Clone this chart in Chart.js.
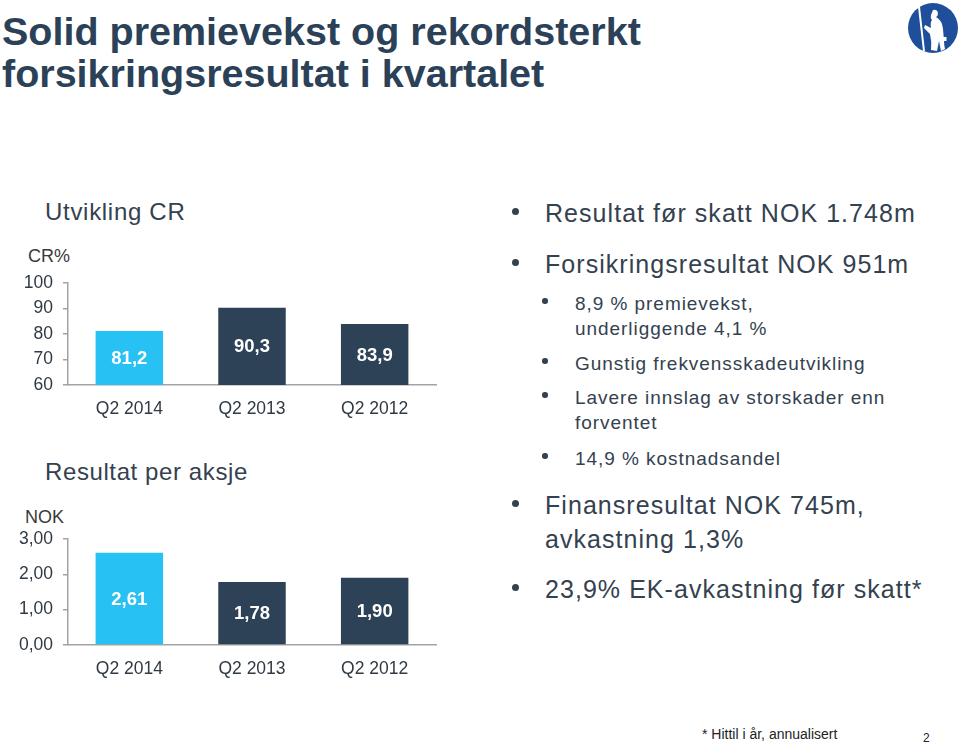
<!DOCTYPE html>
<html><head><meta charset="utf-8">
<script src="https://cdn.jsdelivr.net/npm/chart.js@4.4.1/dist/chart.umd.min.js"></script>
<style>
html,body{margin:0;padding:0;background:#fff;}
body{width:960px;height:744px;position:relative;overflow:hidden;font-family:"Liberation Sans",Arial,Helvetica,sans-serif;color:#2f3c4b;}
.abs{position:absolute;white-space:nowrap;line-height:1;}
.title{font-family:"Liberation Sans Narrow","Liberation Sans",Arial,sans-serif;font-weight:bold;font-size:39.5px;color:#2b4158;left:2px;}
.big{font-size:25px;letter-spacing:1.05px;color:#34414f;}
.sub{font-size:19px;letter-spacing:0.95px;color:#34414f;}
.dot{position:absolute;border-radius:50%;background:#34414f;}
canvas{position:absolute;}
</style></head>
<body>
<div class="abs title" style="top:12px">Solid premievekst og rekordsterkt</div>
<div class="abs title" style="top:54px">forsikringsresultat i kvartalet</div>

<svg style="position:absolute;left:906px;top:1px" width="54" height="54" viewBox="0 0 54 54">
  <circle cx="27" cy="27" r="25" fill="#1f4f9b"/>
  <line x1="13" y1="6" x2="18" y2="50" stroke="#fff" stroke-width="2"/>
  <path d="M27 9 q4 -1 5 3 q0 3 -2 4 q6 3 7 12 l1 12 q0 4 1 8 l-4 2 l-2 -10 l-2 10 l-6 -1 q1 -8 -1 -16 l-6 -6 l1 -3 l6 3 q-1 -6 1 -8 q-2 -2 -1 -5 z" fill="#fff"/>
  <rect x="37" y="36" width="3.5" height="4" fill="#fff"/>
</svg>

<div class="abs" style="left:45px;top:200px;font-size:24px;letter-spacing:0.7px;color:#34414f">Utvikling CR</div>
<div class="abs" style="left:28px;top:247px;font-size:18px;color:#3a3a3a">CR%</div>
<canvas id="cr" width="440" height="170" style="left:0;top:260px"></canvas>

<div class="abs" style="left:45px;top:460px;font-size:24px;letter-spacing:0.6px;color:#34414f">Resultat per aksje</div>
<div class="abs" style="left:25px;top:508px;font-size:18px;color:#3a3a3a">NOK</div>
<canvas id="eps" width="440" height="175" style="left:0;top:515px"></canvas>

<div id="txt"></div>

<div class="abs" style="left:702px;top:727px;font-size:14px;color:#222">* Hittil i år, annualisert</div>
<div class="abs" style="left:923px;top:732px;font-size:12px;color:#222">2</div>

<script>
const categories = ['Q2 2014', 'Q2 2013', 'Q2 2012'];
const crValues = [81.2, 90.3, 83.9];
const epsValues = [2.61, 1.78, 1.90];
const crTicks = [60, 70, 80, 90, 100];
const epsTicks = [0, 1, 2, 3];
const barColors = ['#27c1f3', '#2d4256', '#2d4256'];

const bullets = [
  {level: 0, lines: ['Resultat før skatt NOK 1.748m'], cy: [213]},
  {level: 0, lines: ['Forsikringsresultat NOK 951m'], cy: [264]},
  {level: 1, lines: ['8,9 % premievekst,', 'underliggende 4,1 %'], cy: [303, 328]},
  {level: 1, lines: ['Gunstig frekvensskadeutvikling'], cy: [363]},
  {level: 1, lines: ['Lavere innslag av storskader enn', 'forventet'], cy: [397, 422]},
  {level: 1, lines: ['14,9 % kostnadsandel'], cy: [458]},
  {level: 0, lines: ['Finansresultat NOK 745m,', 'avkastning 1,3%'], cy: [505, 539]},
  {level: 0, lines: ['23,9% EK-avkastning før skatt*'], cy: [589]}
];

const txt = document.getElementById('txt');
bullets.forEach(b => {
  const size = b.level === 0 ? 25 : 19;
  const tx = b.level === 0 ? 545 : 575;
  const bx = b.level === 0 ? 515 : 545;
  const ds = b.level === 0 ? 7 : 5.5;
  const d = document.createElement('div');
  d.className = 'dot';
  d.style.cssText += `left:${bx - ds/2}px;top:${b.cy[0] - ds/2 - 2}px;width:${ds}px;height:${ds}px;`;
  txt.appendChild(d);
  b.lines.forEach((ln, i) => {
    const e = document.createElement('div');
    e.className = 'abs ' + (b.level === 0 ? 'big' : 'sub');
    e.style.left = tx + 'px';
    e.style.top = (b.cy[i] - 0.49 * size) + 'px';
    e.textContent = ln;
    txt.appendChild(e);
  });
});

function makeLabelPlugin(decimals) {
  return {
    id: 'valueLabels' + decimals,
    afterDraw(chart) {
      const ctx = chart.ctx;
      const meta = chart.getDatasetMeta(0);
      const vals = chart.data.datasets[0].data;
      const bottom = chart.chartArea.bottom;
      ctx.save();
      ctx.fillStyle = '#ffffff';
      ctx.font = 'bold 18.5px "Liberation Sans", Arial, sans-serif';
      ctx.textAlign = 'center';
      ctx.textBaseline = 'middle';
      meta.data.forEach((el, i) => {
        const base = Math.min(el.base, bottom);
        const y = (el.y + base) / 2 + 1;
        ctx.fillText(Number(vals[i]).toFixed(decimals).replace('.', ','), el.x, y);
      });
      ctx.restore();
    }
  };
}

function makeChart(id, values, ticks, labelDecimals, tickDecimals, areaTop) {
  const maxV = ticks[ticks.length - 1];
  const chart = new Chart(document.getElementById(id), {
    type: 'bar',
    data: {
      labels: categories,
      datasets: [{
        data: values,
        backgroundColor: barColors,
        borderWidth: 0,
        categoryPercentage: 1,
        barPercentage: 0.55
      }]
    },
    options: {
      responsive: false,
      animation: false,
      events: [],
      layout: {padding: {top: areaTop, right: 4, left: 0, bottom: 0}},
      plugins: {legend: {display: false}, tooltip: {enabled: false}},
      scales: {
        x: {
          grid: {display: false},
          border: {display: true, color: '#a3a3a3', width: 1.5},
          ticks: {color: '#2f3a44', font: {size: 17.5, family: '"Liberation Sans", Arial, sans-serif'}, padding: 6, maxRotation: 0},
          afterFit(s) { s.height = 45; }
        },
        y: {
          min: ticks[0], max: maxV,
          afterBuildTicks(s) { s.ticks = ticks.map(v => ({value: v})); },
          grid: {drawOnChartArea: false, drawTicks: true, tickLength: 5, color: '#a3a3a3', lineWidth: 1.5},
          border: {display: true, color: '#a3a3a3', width: 1.5},
          ticks: {
            autoSkip: false,
            color: '#2f3a44', font: {size: 17.5, family: '"Liberation Sans", Arial, sans-serif'}, padding: 10,
            callback: v => Number(v).toFixed(tickDecimals).replace('.', ',')
          },
          afterFit(s) { s.width = 68; }
        }
      }
    },
    plugins: [makeLabelPlugin(labelDecimals)]
  });
  // align the top of the value axis to the intended position
  for (let k = 0; k < 4; k++) {
    const delta = areaTop - chart.scales.y.getPixelForValue(maxV);
    if (Math.abs(delta) < 0.5) break;
    chart.options.layout.padding.top = Math.max(0, chart.options.layout.padding.top + delta);
    chart.update('none');
  }
  return chart;
}

makeChart('cr', crValues, crTicks, 1, 0, 23);
makeChart('eps', epsValues, epsTicks, 2, 2, 24);
</script>
</body></html>
